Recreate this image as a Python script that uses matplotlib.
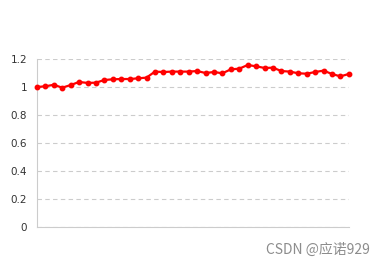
import numpy as np
import matplotlib.pyplot as plt

# 読み取った値
values = [1.00, 1.005, 1.016, 0.995, 1.014, 1.036, 1.029, 1.031, 1.05, 1.055,
          1.057, 1.057, 1.062, 1.067, 1.11, 1.107, 1.11, 1.11, 1.11, 1.114,
          1.10, 1.107, 1.098, 1.126, 1.131, 1.157, 1.148, 1.136, 1.138, 1.114,
          1.11, 1.098, 1.095, 1.107, 1.117, 1.093, 1.076, 1.093]
y_ticks = [0, 0.2, 0.4, 0.6, 0.8, 1.0, 1.2]
y_labels = ['0', '0.2', '0.4', '0.6', '0.8', '1', '1.2']

x = np.arange(len(values))

fig = plt.figure(figsize=(3.85, 2.67), dpi=100)
ax = fig.add_axes([0.096, 0.15, 0.81, 0.629])

ax.plot(x, values, color='#ff0000', lw=1.6, marker='o', ms=3.2, clip_on=False, zorder=3)

ax.set_xlim(0, len(values) - 1)
ax.set_ylim(0, 1.2)
ax.set_yticks(y_ticks)
ax.set_yticklabels(y_labels)
ax.set_xticks([])
ax.yaxis.grid(True, color='#cccccc', ls=(0, (4, 3)), lw=0.8)
ax.tick_params(axis='y', length=0, labelsize=7.5, labelcolor='#333333', pad=7)
for s in ['top', 'right']:
    ax.spines[s].set_visible(False)
ax.spines['left'].set_color('#cccccc')
ax.spines['bottom'].set_color('#cccccc')

fig.text(0.962, 0.063, 'CSDN @应诺929', ha='right', va='center', fontsize=10,
         color='#8c8c8c', family=['Noto Sans CJK SC', 'DejaVu Sans'])

fig.savefig('out.png', dpi=100)
